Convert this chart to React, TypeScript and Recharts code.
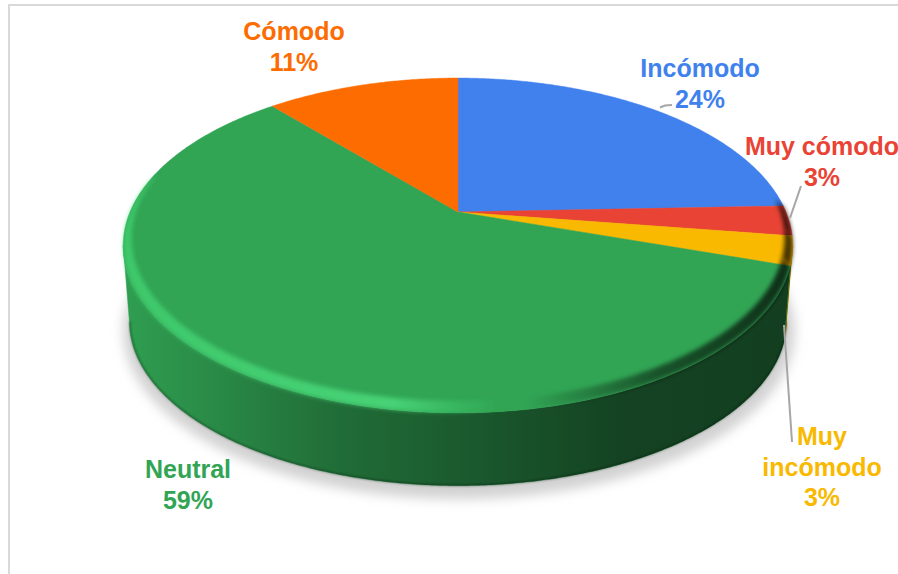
// Pastel "3D" en perspectiva: recharts calcula los ángulos, el shape los proyecta.
import { Pie, PieChart } from 'recharts';

const categories = ['Incómodo', 'Muy cómodo', 'Muy incómodo', 'Neutral', 'Cómodo'];
const values = [24.4, 2.9, 2.8, 58.6, 11.3];
const colors = ['#4081ee', '#e94335', '#f8b900', '#31a554', '#fd6c00'];
const labelLines = [['Incómodo'], ['Muy cómodo'], ['Muy', 'incómodo'], ['Neutral'], ['Cómodo']];

// layout de etiquetas: centro x, primera línea base y
const labelX = [700, 822, 822, 188, 294];
const labelY = [77, 155, 445, 478, 40];
const leaders = ['660,107.5 665,105.5 672,105', '801,186 790,218', '792,442 784,325', '', ''];

const W = 898;
const H = 574;
const CX = 458;
const CY = 212;
const R = 328;
const K = 0.2; // perspectiva
const SQUASH = 0.49;
const DEPTH = 76.5;
const R_BOTTOM = 322;

const data = categories.map((name, i) => ({ name, value: values[i], fill: colors[i] }));
const shadowData = [{ name: 'sombra', value: values.reduce((a, b) => a + b, 0) }];

const rad = (d: number) => (d * Math.PI) / 180;

function project(cx: number, cy: number, r: number, t: number) {
  const u = Math.sin(rad(t));
  const v = -Math.cos(rad(t));
  const w = 1 - K * v;
  return [cx + (r * u) / w, cy + (r * SQUASH * v) / w];
}

function arc(cx: number, cy: number, r: number, t0: number, t1: number) {
  const n = Math.max(2, Math.ceil(Math.abs(t1 - t0) * 2));
  const pts: number[][] = [];
  for (let i = 0; i <= n; i++) pts.push(project(cx, cy, r, t0 + ((t1 - t0) * i) / n));
  return pts;
}

const toPath = (pts: number[][]) => 'M' + pts.map((p) => `${p[0].toFixed(1)},${p[1].toFixed(1)}`).join('L') + 'Z';
const toLine = (pts: number[][]) => 'M' + pts.map((p) => `${p[0].toFixed(1)},${p[1].toFixed(1)}`).join('L');

const SIDE_FROM = (Math.acos(-K) * 180) / Math.PI;
const SIDE_TO = 360 - SIDE_FROM;

function Slice3D(props: any) {
  const { cx, cy, outerRadius, startAngle, endAngle, fill } = props;
  const t0 = 90 - startAngle;
  const t1 = 90 - endAngle;
  const bottomR = (outerRadius * R_BOTTOM) / R;
  const s0 = Math.max(t0, SIDE_FROM);
  const s1 = Math.min(t1, SIDE_TO);
  const r0 = Math.max(t0, 88);
  const r1 = Math.min(t1, 282);
  let side = null;
  if (s1 > s0) {
    const top = arc(cx, cy, outerRadius, s0, s1);
    const bottom = arc(cx, cy + DEPTH, bottomR, s0, s1);
    const d = toPath([...top, ...bottom.reverse()]);
    side = (
      <g>
        <path d={d} fill={fill} stroke={fill} strokeWidth={0.5} />
        <path d={d} fill="url(#sideShade)" />
        <path d={toLine(arc(cx, cy + DEPTH, bottomR - 0.5, s0, s1))} fill="none" stroke="#000" strokeOpacity={0.3} strokeWidth={2} filter="url(#soft1)" />
      </g>
    );
  }
  let ring = null;
  if (r1 > r0) {
    const outer = arc(cx, cy, outerRadius, r0, r1);
    const inner = arc(cx, cy - 7, outerRadius * 0.975, r0, r1);
    ring = <path d={toPath([...outer, ...inner.reverse()])} fill="url(#rimShade)" filter="url(#soft2)" />;
  }
  return (
    <g>
      {side}
      <path d={toPath([[cx, cy], ...arc(cx, cy, outerRadius, t0, t1)])} fill={fill} stroke={fill} strokeWidth={0.5} />
      {ring}
    </g>
  );
}

function ShadowShape(props: any) {
  const { cx, cy, outerRadius } = props;
  return (
    <path
      d={toPath(arc(cx + 1, cy + DEPTH + 9, (outerRadius * R_BOTTOM) / R + 7, 0, 360))}
      fill="#d2d2d2"
      filter="url(#soft6)"
    />
  );
}

function SliceLabel(props: any) {
  const i = props.index;
  const lines = [...labelLines[i], `${Math.round(values[i])}%`];
  return (
    <text x={labelX[i]} y={labelY[i]} textAnchor="middle" fill={colors[i]} fontFamily="'Liberation Sans', Arial, sans-serif" fontWeight={700} fontSize={25}>
      {lines.map((l, j) => (
        <tspan key={j} x={labelX[i]} dy={j === 0 ? 0 : 30.5}>
          {l}
        </tspan>
      ))}
    </text>
  );
}

function LeaderLine(props: any) {
  const pts = leaders[props.index];
  if (!pts) return <g />;
  return <polyline points={pts} fill="none" stroke="#a6a6a6" strokeWidth={2} />;
}

export default function App() {
  return (
    <div style={{ position: 'absolute', left: 0, top: 0, width: W, height: H, overflow: 'hidden', background: '#fff' }}>
      <div style={{ position: 'absolute', left: 8, top: 4, width: W, height: H, borderLeft: '2px solid #d9d9d9', borderTop: '2px solid #d9d9d9' }} />
      <div style={{ position: 'absolute', left: 0, top: 0 }}>
        <PieChart width={W} height={H} margin={{ top: 0, right: 0, bottom: 0, left: 0 }}>
          <defs>
            <linearGradient id="sideShade" gradientUnits="userSpaceOnUse" x1={124} y1={0} x2={793} y2={0}>
              <stop offset="0" stopColor="#000" stopOpacity={0.04} />
              <stop offset="0.12" stopColor="#000" stopOpacity={0.15} />
              <stop offset="0.33" stopColor="#000" stopOpacity={0.35} />
              <stop offset="0.55" stopColor="#000" stopOpacity={0.48} />
              <stop offset="0.75" stopColor="#000" stopOpacity={0.6} />
              <stop offset="1" stopColor="#000" stopOpacity={0.62} />
            </linearGradient>
            <linearGradient id="rimShade" gradientUnits="userSpaceOnUse" x1={124} y1={0} x2={793} y2={0}>
              <stop offset="0" stopColor="#46e07a" stopOpacity={0.6} />
              <stop offset="0.4" stopColor="#52e585" stopOpacity={0.7} />
              <stop offset="0.56" stopColor="#46e07a" stopOpacity={0} />
              <stop offset="0.6" stopColor="#000" stopOpacity={0} />
              <stop offset="0.8" stopColor="#000" stopOpacity={0.5} />
              <stop offset="1" stopColor="#000" stopOpacity={0.72} />
            </linearGradient>
            <filter id="soft1" filterUnits="userSpaceOnUse" x={0} y={0} width={W} height={H}>
              <feGaussianBlur stdDeviation={0.8} />
            </filter>
            <filter id="soft2" filterUnits="userSpaceOnUse" x={0} y={0} width={W} height={H}>
              <feGaussianBlur stdDeviation={2} />
            </filter>
            <filter id="soft6" filterUnits="userSpaceOnUse" x={0} y={0} width={W} height={H}>
              <feGaussianBlur stdDeviation={6} />
            </filter>
          </defs>
          <Pie
            data={shadowData}
            dataKey="value"
            cx={CX}
            cy={CY}
            outerRadius={R}
            startAngle={90}
            endAngle={-270}
            stroke="none"
            shape={ShadowShape}
            isAnimationActive={false}
          />
          <Pie
            data={data}
            dataKey="value"
            nameKey="name"
            cx={CX}
            cy={CY}
            outerRadius={R}
            startAngle={90}
            endAngle={-270}
            stroke="none"
            shape={Slice3D}
            label={SliceLabel}
            labelLine={LeaderLine}
            isAnimationActive={false}
          />
        </PieChart>
      </div>
    </div>
  );
}
